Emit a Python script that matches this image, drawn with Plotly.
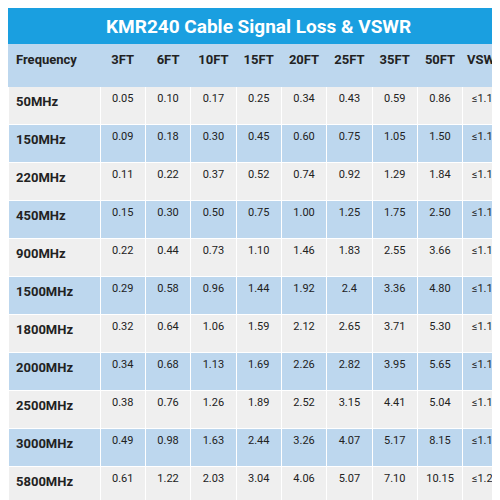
import plotly.graph_objects as go

title = "KMR240 Cable Signal Loss & VSWR"
headers = ["Frequency", "3FT", "6FT", "10FT", "15FT", "20FT", "25FT", "35FT", "50FT", "VSWR"]
freqs = ["50MHz", "150MHz", "220MHz", "450MHz", "900MHz", "1500MHz", "1800MHz", "2000MHz", "2500MHz", "3000MHz", "5800MHz"]
ft3 = ["0.05", "0.09", "0.11", "0.15", "0.22", "0.29", "0.32", "0.34", "0.38", "0.49", "0.61"]
ft6 = ["0.10", "0.18", "0.22", "0.30", "0.44", "0.58", "0.64", "0.68", "0.76", "0.98", "1.22"]
ft10 = ["0.17", "0.30", "0.37", "0.50", "0.73", "0.96", "1.06", "1.13", "1.26", "1.63", "2.03"]
ft15 = ["0.25", "0.45", "0.52", "0.75", "1.10", "1.44", "1.59", "1.69", "1.89", "2.44", "3.04"]
ft20 = ["0.34", "0.60", "0.74", "1.00", "1.46", "1.92", "2.12", "2.26", "2.52", "3.26", "4.06"]
ft25 = ["0.43", "0.75", "0.92", "1.25", "1.83", "2.4", "2.65", "2.82", "3.15", "4.07", "5.07"]
ft35 = ["0.59", "1.05", "1.29", "1.75", "2.55", "3.36", "3.71", "3.95", "4.41", "5.17", "7.10"]
ft50 = ["0.86", "1.50", "1.84", "2.50", "3.66", "4.80", "5.30", "5.65", "5.04", "8.15", "10.15"]
vswr = ["≤1.15"] * 10 + ["≤1.25"]

cols = [freqs, ft3, ft6, ft10, ft15, ft20, ft25, ft35, ft50, vswr]
row_colors = ["#efefef" if i % 2 == 0 else "#bdd7ee" for i in range(len(freqs))]
cols_b = [["<b>%s</b>" % v for v in freqs]] + cols[1:]

TOP = 36
fig = go.Figure(go.Table(
    domain=dict(x=[0, 1], y=[0, 1]),
    columnwidth=[92] + [45.3] * 9,
    header=dict(values=["<b>%s</b>" % h for h in headers],
                fill_color="#bdd7ee", line=dict(color="#bdd7ee", width=1),
                align=["left"] + ["center"] * 9, height=42,
                font=dict(family="Roboto", size=13, color="#222")),
    cells=dict(values=cols_b, fill_color=[row_colors] * 10,
               line=dict(color="#ffffff", width=1),
               align=["left"] + ["center"] * 9, height=38,
               font=dict(family="Roboto", size=[13] + [11] * 9, color="#222")),
))
h_plot = 500 - TOP
fig.add_shape(type="rect", xref="paper", yref="paper", x0=0, x1=1, y0=1, y1=1 + TOP / h_plot,
              fillcolor="#1a9fe0", line=dict(width=0))
fig.add_annotation(text="<b>%s</b>" % title, xref="paper", yref="paper", x=0.5,
                   y=1 + TOP / 2 / h_plot, yanchor="middle",
                   showarrow=False, font=dict(family="Roboto", size=19, color="white"))
fig.update_layout(width=500, height=500, margin=dict(l=0, r=0, t=TOP, b=0, autoexpand=False),
                  paper_bgcolor="white")
fig.write_html("out.html", config={"responsive": False})
